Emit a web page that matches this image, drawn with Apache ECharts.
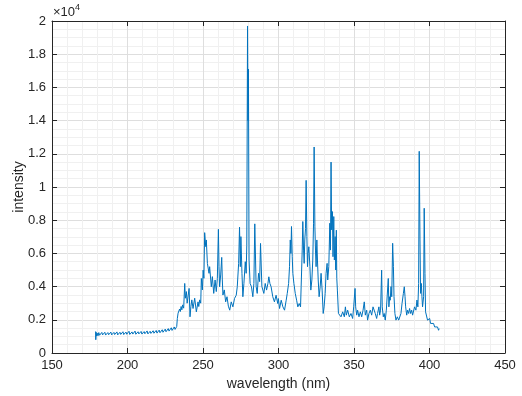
<!DOCTYPE html>
<html lang="en">
<head>
    <meta charset="UTF-8">
    <title>spectrum</title>
    <script src="https://cdn.jsdelivr.net/npm/echarts@6/dist/echarts.min.js"></script>
    <style>
        html, body { margin: 0; padding: 0; background: #fff; }
        #main { width: 522px; height: 396px; }
    </style>
</head>
<body>
    <div id="main"></div>
    <script>
        // wavelength (nm) and intensity
        var wavelength = [
            178.9, 179.0, 179.2, 179.6, 180.0, 180.5, 181.0, 181.5, 182.0, 182.5, 183.0, 183.5, 184.0, 184.5, 185.0, 185.5,
            186.0, 186.5, 187.0, 187.5, 188.0, 188.5, 189.0, 189.5, 190.0, 190.5, 191.0, 191.5, 192.0, 192.5, 193.0,
            193.5, 194.0, 194.5, 195.0, 195.5, 196.0, 196.5, 197.0, 197.5, 198.0, 198.5, 199.0, 199.5, 200.0, 200.5,
            201.0, 201.5, 202.0, 202.5, 203.0, 203.5, 204.0, 204.5, 205.0, 205.5, 206.0, 206.5, 207.0, 207.5, 208.0,
            208.5, 209.0, 209.5, 210.0, 210.5, 211.0, 211.5, 212.0, 212.5, 213.0, 213.5, 214.0, 214.5, 215.0, 215.5,
            216.0, 216.5, 217.0, 217.5, 218.0, 218.5, 219.0, 219.5, 220.0, 220.5, 221.0, 221.5, 222.0, 222.5, 223.0,
            223.5, 224.0, 224.5, 225.0, 225.5, 226.0, 226.5, 227.0, 227.5, 228.0, 228.5, 229.0, 229.5, 230.0, 230.5,
            231.0, 231.5, 232.0, 232.6,
            233.0, 233.5, 234.0, 234.5, 235, 235.5, 236, 236.5, 237.2, 237.9, 238.3, 239.0, 239.5, 240.1, 240.8, 241.4,
            242.0, 242.6, 243.4, 244.5, 245.6, 246.7, 247.2, 247.8, 248.5, 248.9, 249.6, 250.1, 250.6, 251.1, 251.8,
            252.2, 252.9, 254.0, 254.4, 255.5, 256.2, 257.1, 258.0, 258.8, 259.5, 260.2, 260.6, 261.0, 261.7, 262.4,
            262.8, 263.2, 264.1, 265.0, 265.9, 266.8, 267.7,
            268.0, 268.7, 269.8, 270.9, 272.0, 272.7, 273.6, 274.2, 274.7, 275.1, 275.8, 276.4, 277.1, 278.0, 278.6,
            279.0, 279.5, 279.8, 280.1, 280.5, 281.2, 282.1, 283.0, 283.7, 284.3, 284.8, 285.2, 285.9, 286.8, 287.5,
            288.1, 289.0, 290.3, 291.2, 292.1, 293.0, 293.6, 294.3, 295.1, 296.2, 297.3, 298.4, 299.5,
            299.9, 300.7, 301.8, 302.9, 304.0, 305.1, 305.8, 306.7, 307.3, 307.8, 308.2, 308.6, 309.1, 309.5, 310.2,
            311.1, 312.0, 312.8, 313.7, 314.6, 315.0, 315.7, 316.1, 316.6, 317.0, 317.4, 317.9, 318.3, 318.8, 319.2,
            319.6, 320.1, 320.8, 321.4, 322.1, 322.7, 323.2, 323.6, 324.1, 324.5, 324.9, 325.4, 325.8, 326.3, 326.9,
            327.6, 328.2, 328.9, 329.6, 330.2, 330.9, 331.5, 332.2, 332.6, 333.3, 334.0, 334.4, 334.8, 335.2, 335.7,
            336.1, 336.6, 337.0, 337.5, 337.9, 338.3, 338.6, 339.0, 339.7, 340.3,
            341.4, 342.5, 343.6, 344.3, 344.9, 345.8, 346.9, 348.0, 349.1, 349.8, 350.7, 351.1, 351.8, 352.4, 353.3,
            354.2, 355.1, 356.0, 356.8, 357.5, 358.4, 359.0, 359.9, 360.8, 361.7, 362.6, 363.4, 364.1, 365.0, 365.6,
            366.5, 367.0, 367.6, 368.3, 368.7, 369.4, 370.0, 370.7, 371.4, 372.0, 372.7, 373.1, 373.6, 374.0, 374.5,
            375.0, 375.6, 376.1, 376.5, 377.1, 377.8, 378.7, 379.6, 380.4, 381.1, 381.8, 382.7, 383.3, 383.8, 384.2,
            384.9, 385.5, 386.2, 386.8, 387.5, 388.2, 388.8, 389.5, 390.1, 391.0, 391.7, 392.3, 392.8, 393.2, 393.7,
            394.1, 394.6, 395.0, 395.4, 396.1, 396.5, 397.0, 397.4, 398.1, 398.7, 399.4, 400.1, 400.7, 401.4, 402.0,
            402.7, 403.4, 404.0, 404.7, 405.3, 406.0, 406.4
        ];
        var intensity = [
            1300, 800, 1250, 1020, 1190, 1040, 1230, 1070, 1160, 1010, 1240, 1090, 1180, 1030, 1250, 1080,
            1200, 1040, 1230, 1100, 1170, 1030, 1260, 1090, 1190, 1050, 1240, 1110, 1180, 1060, 1270,
            1090, 1210, 1050, 1250, 1120, 1190, 1070, 1280, 1110, 1210, 1060, 1260, 1130, 1230, 1090,
            1310, 1120, 1220, 1080, 1270, 1140, 1240, 1100, 1320, 1130, 1230, 1090, 1280, 1150, 1250,
            1110, 1300, 1140, 1240, 1100, 1290, 1160, 1260, 1120, 1330, 1150, 1250, 1130, 1310, 1180,
            1270, 1140, 1340, 1190, 1290, 1160, 1360, 1200, 1310, 1180, 1380, 1220, 1330, 1200, 1400,
            1250, 1350, 1230, 1440, 1280, 1390, 1260, 1470, 1320, 1430, 1300, 1520, 1360, 1470, 1350,
            1570, 1420, 1540, 1600,
            2080, 2400, 2300, 2650, 2500, 2800, 2600, 2900, 2700, 4190, 3300, 3700, 3000, 2980, 3890, 2180,
            2800, 3200, 2680, 3300, 2480, 3080, 2800, 3200, 3000, 4490, 3800, 4990, 4500, 7250, 6410,
            6810, 5400, 4800, 5200, 3990, 4600, 3590, 4400, 3700, 4500, 7450, 5200, 3990, 4700, 5760,
            4400, 3490, 3800, 3080, 3390, 2820, 2580,
            2700, 3080, 2780, 3290, 3480, 3990, 5400, 7580, 5200, 7010, 4800, 3390, 4190, 5500, 4800,
            6500, 19700, 14000, 17100, 5600, 4190, 3990, 3390, 4190, 7780, 5600, 4000, 3590, 4800, 4300,
            6600, 4000, 3590, 4190, 3790, 4190, 4590, 4190, 3990, 3390, 3080, 3480, 2980,
            3280, 2680, 3180, 2780, 2580, 3180, 3590, 4190, 5200, 6810, 6000, 7620, 5800, 4790, 4190,
            3590, 3180, 2780, 2980, 2780, 3990, 6200, 7920, 6200, 5400, 6810, 7500, 10400, 7010, 5200,
            6000, 6400, 5200, 3790, 4400, 5600, 7820, 12410, 7600, 6200, 5200, 6810, 5600, 4400, 3390,
            3990, 4800, 3790, 2380, 2780, 3590, 4800, 5400, 4400, 5200, 7820, 6200, 11500, 7420, 8520,
            5800, 8220, 5600, 7010, 5000, 7400, 4500, 3790, 2380, 2280,
            2180, 2480, 2180, 2780, 2280, 2580, 2180, 2380, 2080, 2780, 3890, 2780, 2280, 2580, 2180,
            2480, 2180, 2580, 3080, 2280, 2580, 1980, 2380, 2580, 2280, 2780, 2880, 2380, 2080, 2380,
            2780, 2280, 2580, 4990, 2780, 2180, 2380, 1980, 2580, 2580, 4490, 2780, 3390, 3180, 4000,
            3390, 6610, 5200, 3390, 2380, 1980, 2180, 1980, 2080, 2380, 2980, 3590, 3990, 3390, 2780,
            2280, 2580, 2380, 2680, 2380, 2580, 2280, 2380, 2780, 2580, 3190, 2780, 4190, 12150, 6810,
            3590, 4190, 3390, 2780, 3390, 8720, 4800, 2480, 2380, 1980, 1880, 2080, 1780, 1880, 1680,
            1780, 1570, 1680, 1470, 1570, 1370, 1470
        ];
        var xTicks = [150, 200, 250, 300, 350, 400, 450];
        var yTicks = [0, 2000, 4000, 6000, 8000, 10000, 12000, 14000, 16000, 18000, 20000];

        var points = wavelength.map(function (w, i) { return [w, intensity[i]]; });

        var myChart = echarts.init(document.getElementById('main'));
        var axisColor = '#262626';
        var font = 'Liberation Sans, Arial, sans-serif';

        function baseX(show) {
            return {
                type: 'value',
                min: xTicks[0],
                max: xTicks[xTicks.length - 1],
                interval: 50,
                axisLine: { show: true, onZero: false, lineStyle: { color: axisColor, width: 1 } },
                axisTick: { show: true, inside: true, length: 5, lineStyle: { color: axisColor } },
                axisLabel: { show: show, color: axisColor, fontSize: 13, fontFamily: font, margin: 6 },
                splitLine: { show: show, lineStyle: { color: '#dedede', width: 1 } },
                minorTick: { show: false, splitNumber: 5 },
                minorSplitLine: { show: show, lineStyle: { color: '#f0f0f0', width: 1 } }
            };
        }
        function baseY(show) {
            return {
                type: 'value',
                min: yTicks[0],
                max: yTicks[yTicks.length - 1],
                interval: 2000,
                axisLine: { show: true, onZero: false, lineStyle: { color: axisColor, width: 1 } },
                axisTick: { show: true, inside: true, length: 5, lineStyle: { color: axisColor } },
                axisLabel: {
                    show: show, color: axisColor, fontSize: 13, fontFamily: font, margin: 6,
                    formatter: function (v) { return v === 0 ? '0' : String(+(v / 10000).toFixed(1)); }
                },
                splitLine: { show: show, lineStyle: { color: '#dedede', width: 1 } },
                minorTick: { show: false, splitNumber: 4 },
                minorSplitLine: { show: show, lineStyle: { color: '#f0f0f0', width: 1 } }
            };
        }

        var xBottom = baseX(true);
        xBottom.name = 'wavelength (nm)';
        xBottom.nameLocation = 'middle';
        xBottom.nameGap = 24;
        xBottom.nameTextStyle = { color: axisColor, fontSize: 14, fontFamily: font };
        var xTop = baseX(false);
        xTop.position = 'top';

        var yLeft = baseY(true);
        yLeft.name = 'intensity';
        yLeft.nameLocation = 'middle';
        yLeft.nameGap = 26;
        yLeft.nameMoveOverlap = false;
        yLeft.nameTextStyle = { color: axisColor, fontSize: 14, fontFamily: font };
        var yRight = baseY(false);
        yRight.position = 'right';

        var option = {
            animation: false,
            backgroundColor: '#fff',
            grid: { left: 52, right: 17, top: 21, bottom: 43, containLabel: false, outerBoundsMode: 'none' },
            xAxis: [xBottom, xTop],
            yAxis: [yLeft, yRight],
            graphic: [{
                type: 'text',
                left: 53,
                top: 3,
                style: {
                    text: '{a|\u00d710}{b|4}',
                    rich: {
                        a: { fontSize: 13, fontFamily: font, fill: axisColor, padding: [6, 0, 0, 0] },
                        b: { fontSize: 9, fontFamily: font, fill: axisColor, padding: [0, 0, 4, 0] }
                    }
                }
            }],
            series: [{
                type: 'line',
                data: points,
                showSymbol: false,
                xAxisIndex: 0,
                yAxisIndex: 0,
                lineStyle: { color: '#0072BD', width: 1 },
                itemStyle: { color: '#0072BD' }
            }]
        };
        myChart.setOption(option);
    </script>
</body>
</html>
